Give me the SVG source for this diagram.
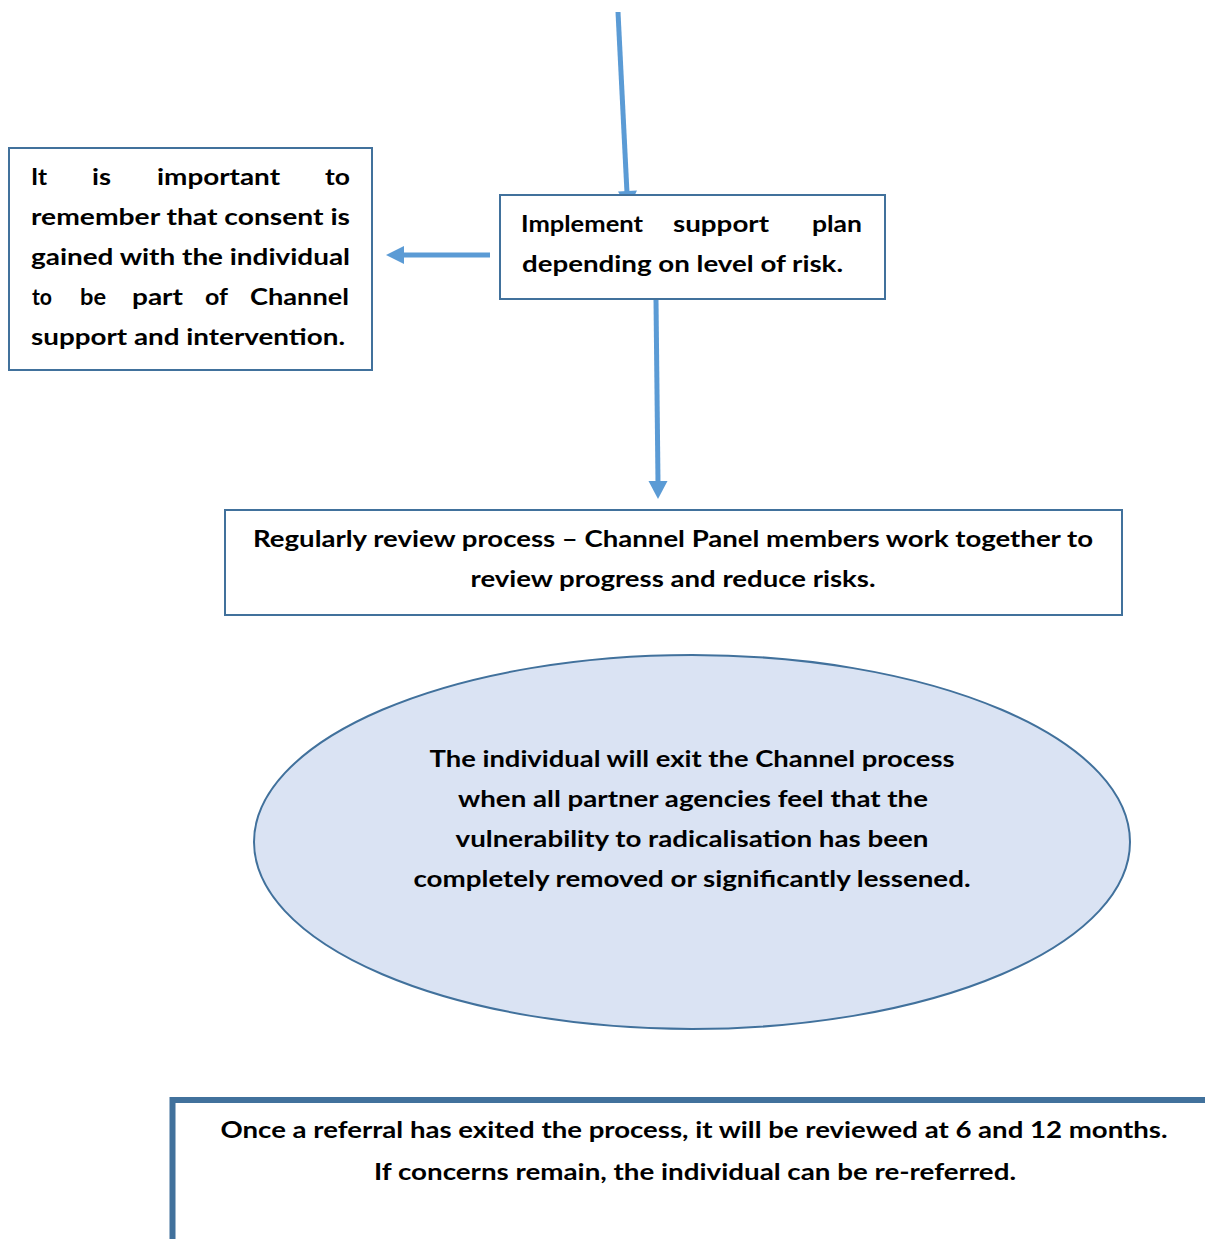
<svg xmlns="http://www.w3.org/2000/svg" width="1205" height="1239" viewBox="0 0 1205 1239">
<defs>
<style>
.box{fill:#ffffff;stroke:#41719C;stroke-width:2}
.conn{stroke:#5B9BD5;stroke-width:5;fill:none}
.head{fill:#5B9BD5}
text{font-family:Lato,"Liberation Sans",sans-serif;font-weight:bold;font-size:22.5px;fill:#000}
.c{text-anchor:middle}
</style>
</defs>
<rect width="1205" height="1239" fill="#ffffff"/>
<g id="connectors">
<line class="conn" x1="618" y1="12" x2="627" y2="193"/>
<polygon class="head" points="628,209 637,190.5 618,191.5"/>
<line class="conn" x1="490" y1="255" x2="402" y2="255"/>
<polygon class="head" points="386,255 404,246 404,264"/>
<line class="conn" x1="656" y1="300" x2="658" y2="483"/>
<polygon class="head" points="658,499 648.5,481 667.5,481"/>
</g>
<g id="node-consent">
<rect class="box" x="9" y="148" width="363" height="222"/>
<text x="31" y="185" textLength="16" lengthAdjust="spacingAndGlyphs">It</text>
<text x="92" y="185" textLength="19" lengthAdjust="spacingAndGlyphs">is</text>
<text x="157" y="185" textLength="123" lengthAdjust="spacingAndGlyphs">important</text>
<text x="325" y="185" textLength="25" lengthAdjust="spacingAndGlyphs">to</text>
<text x="31" y="225" textLength="319" lengthAdjust="spacingAndGlyphs">remember that consent is</text>
<text x="31" y="265" textLength="319" lengthAdjust="spacingAndGlyphs">gained with the individual</text>
<text x="32" y="305" textLength="20" lengthAdjust="spacingAndGlyphs">to</text>
<text x="80" y="305" textLength="26" lengthAdjust="spacingAndGlyphs">be</text>
<text x="132" y="305" textLength="51" lengthAdjust="spacingAndGlyphs">part</text>
<text x="205" y="305" textLength="23" lengthAdjust="spacingAndGlyphs">of</text>
<text x="250" y="305" textLength="99" lengthAdjust="spacingAndGlyphs">Channel</text>
<text x="31" y="345" textLength="314" lengthAdjust="spacingAndGlyphs">support and intervention.</text>
</g>
<g id="node-implement">
<rect class="box" x="500" y="195" width="385" height="104"/>
<text x="521" y="232" textLength="122" lengthAdjust="spacingAndGlyphs">Implement</text>
<text x="673" y="232" textLength="96" lengthAdjust="spacingAndGlyphs">support</text>
<text x="812" y="232" textLength="50" lengthAdjust="spacingAndGlyphs">plan</text>
<text x="522" y="272" textLength="321" lengthAdjust="spacingAndGlyphs">depending on level of risk.</text>
</g>
<g id="node-review">
<rect class="box" x="225" y="510" width="897" height="105"/>
<text class="c" x="673" y="547" textLength="840" lengthAdjust="spacingAndGlyphs">Regularly review process – Channel Panel members work together to</text>
<text class="c" x="673" y="587" textLength="405" lengthAdjust="spacingAndGlyphs">review progress and reduce risks.</text>
</g>
<g id="node-exit">
<ellipse cx="692" cy="842" rx="438" ry="187" fill="#DAE3F3" stroke="#41719C" stroke-width="2"/>
<text class="c" x="692" y="767" textLength="525" lengthAdjust="spacingAndGlyphs">The individual will exit the Channel process</text>
<text class="c" x="693" y="807" textLength="470" lengthAdjust="spacingAndGlyphs">when all partner agencies feel that the</text>
<text class="c" x="692" y="847" textLength="473" lengthAdjust="spacingAndGlyphs">vulnerability to radicalisation has been</text>
<text class="c" x="692" y="887" textLength="557" lengthAdjust="spacingAndGlyphs">completely removed or significantly lessened.</text>
</g>
<g id="node-followup">
<path d="M172.5,1239 L172.5,1100 L1205,1100" fill="none" stroke="#41719C" stroke-width="6"/>
<text class="c" x="694" y="1138" textLength="947" lengthAdjust="spacingAndGlyphs">Once a referral has exited the process, it will be reviewed at 6 and 12 months.</text>
<text class="c" x="695" y="1180" textLength="642" lengthAdjust="spacingAndGlyphs">If concerns remain, the individual can be re-referred.</text>
</g>
</svg>
